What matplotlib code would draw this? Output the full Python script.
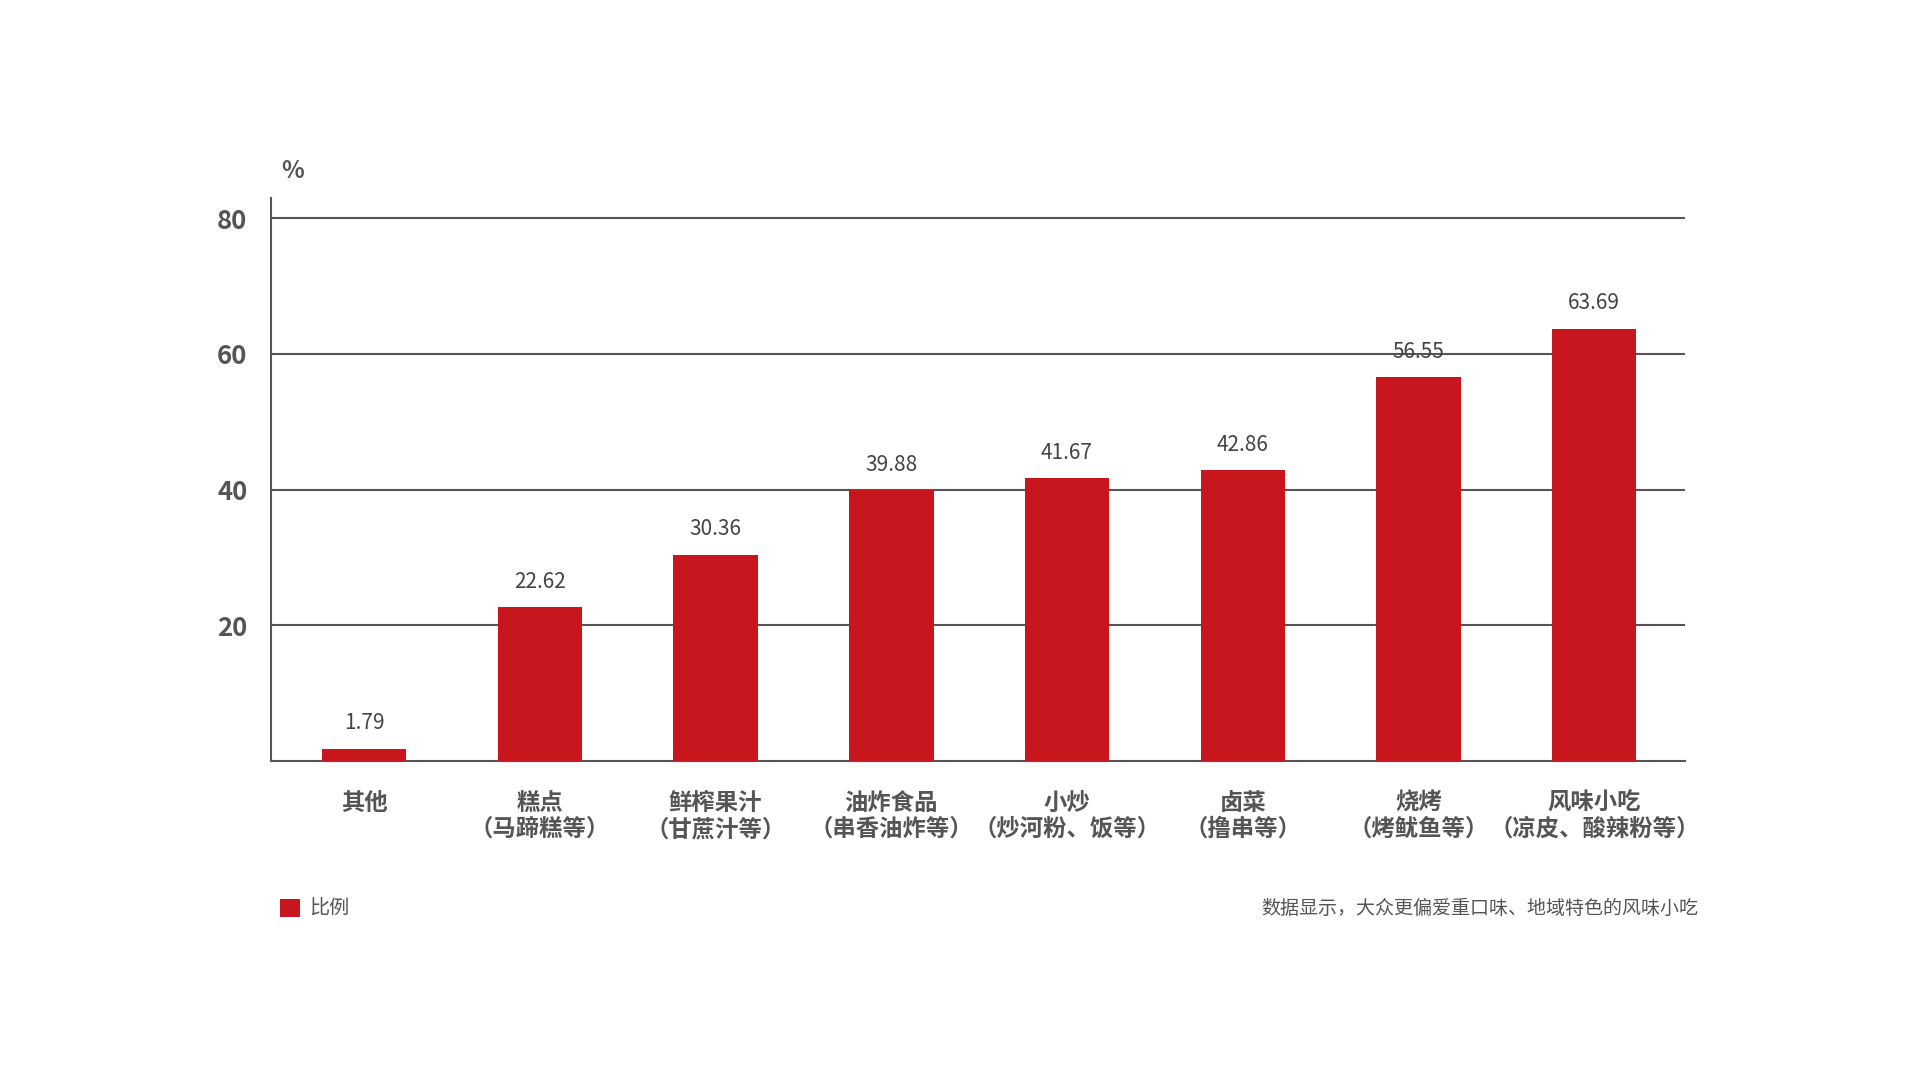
import matplotlib
matplotlib.use("Agg")
import matplotlib.pyplot as plt
from matplotlib.transforms import blended_transform_factory

plt.rcParams['font.family'] = ['Noto Sans CJK SC', 'DejaVu Sans']

categories = ['其他', '糕点', '鲜榨果汁', '油炸食品', '小炒', '卤菜', '烧烤', '风味小吃']
sublabels = ['', '（马蹄糕等）', '（甘蔗汁等）', '（串香油炸等）', '（炒河粉、饭等）',
             '（撸串等）', '（烤鱿鱼等）', '（凉皮、酸辣粉等）']
values = [1.79, 22.62, 30.36, 39.88, 41.67, 42.86, 56.55, 63.69]
yticks = [20, 40, 60, 80]
series_name = '比例'
unit_label = '%'
note = '数据显示，大众更偏爱重口味、地域特色的风味小吃'

RED = '#C8161E'
GRAY = '#555555'

W, H = 1920, 1080
fig = plt.figure(figsize=(19.2, 10.8), dpi=100)
ax = fig.add_axes([271 / W, 1 - 761 / H, (1685 - 271) / W, (761 - 198) / H])

x = list(range(len(categories)))
bars = ax.bar(x, values, width=0.48, color=RED, label=series_name, zorder=3)

ax.set_xlim(-0.53, 7.516)
ax.set_ylim(0, 82.95)
ax.set_yticks(yticks)
ax.set_yticklabels([str(t) for t in yticks], fontsize=18.5, fontweight='heavy', color=GRAY)
ax.tick_params(axis='y', length=0, pad=17)
ax.set_xticks([])
ax.grid(axis='y', color=GRAY, linewidth=1.5, zorder=1)
ax.grid(axis='x', visible=False)
for s in ['top', 'right']:
    ax.spines[s].set_visible(False)
for s in ['left', 'bottom']:
    ax.spines[s].set_color(GRAY)
    ax.spines[s].set_linewidth(1.5)

for xi, v in zip(x, values):
    ax.annotate(f'{v:.2f}', (xi, v), xytext=(0, 10.5), textcoords='offset points',
                ha='center', va='bottom', fontsize=15, fontweight='light',
                color='#444444')

tr = blended_transform_factory(ax.transData, fig.transFigure)
for xi, c, s in zip(x, categories, sublabels):
    ax.text(xi, 1 - 803 / H, c, transform=tr, ha='center', va='center',
            fontsize=16.8, fontweight='heavy', color=GRAY)
    if s:
        ax.text(xi, 1 - 829 / H, s, transform=tr, ha='center', va='center',
                fontsize=16.8, fontweight='heavy', color=GRAY)

fig.text(293 / W, 1 - 171 / H, unit_label, ha='center', va='center',
         fontsize=17, fontweight='bold', color=GRAY)

fig.legend(handles=[bars], labels=[series_name], loc='center left',
           bbox_to_anchor=(280 / W, 1 - 909 / H), frameon=False,
           handlelength=1.0, handleheight=1.0,
           handletextpad=0.45, borderpad=0, borderaxespad=0,
           labelcolor=GRAY, prop={'weight': 'light', 'size': 14.5})

fig.text(1698 / W, 1 - 908 / H, note, ha='right', va='center',
         fontsize=13.7, fontweight='light', color=GRAY)

fig.savefig('out.png', dpi=100, facecolor='white')
